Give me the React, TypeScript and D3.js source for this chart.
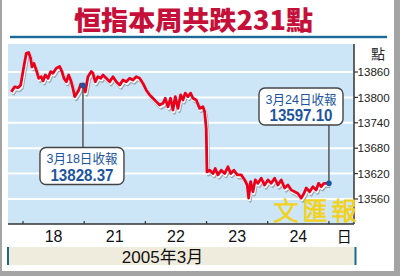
import React from "react";
import * as d3 from "d3";

const title = "恒指本周共跌231點";
const dayLabels = ["18", "21", "22", "23", "24"];
const dayBoundaries = [0, 1, 2, 3, 4, 5];
const yTicks = [13560, 13620, 13680, 13740, 13800, 13860];
const monthLabel = "2005年3月";
const unitLabel = "點";
const dayUnit = "日";
const watermark = ["文", "匯", "報"];

// time in trading-day units (0 = start of 18th, 5 = close of 24th)
const times = [
  -0.191, -0.136, -0.082, -0.038, 0, 0.054, 0.093, 0.126, 0.147, 0.18, 0.217, 0.257, 0.299, 0.327,
  0.364, 0.408, 0.453, 0.49, 0.544, 0.6, 0.637, 0.67, 0.708, 0.747, 0.789, 0.817, 0.845, 0.871,
  0.91, 0.943, 0.98, 1.018, 1.062, 1.116, 1.144, 1.181, 1.225, 1.27, 1.307, 1.361, 1.417, 1.471,
  1.525, 1.58, 1.634, 1.688, 1.744, 1.797, 1.851, 1.907, 1.961, 2.015, 2.07, 2.124, 2.178, 2.234,
  2.288, 2.325, 2.369, 2.413, 2.451, 2.489, 2.533, 2.577, 2.614, 2.652, 2.696, 2.74, 2.778, 2.832,
  2.887, 2.941, 2.969, 2.995, 3.007, 3.051, 3.105, 3.142, 3.186, 3.24, 3.296, 3.35, 3.394, 3.448,
  3.502, 3.567, 3.623, 3.665, 3.688, 3.721, 3.758, 3.796, 3.84, 3.894, 3.949, 4.003, 4.057, 4.113,
  4.167, 4.221, 4.276, 4.33, 4.384, 4.44, 4.493, 4.547, 4.592, 4.629, 4.685, 4.739, 4.792, 4.832,
  4.874, 4.918, 5.0,
];
const values = [
  13813, 13825, 13823, 13829, 13861, 13904, 13906, 13892, 13872, 13880, 13865, 13845, 13849, 13839,
  13853, 13845, 13861, 13857, 13869, 13873, 13861, 13845, 13837, 13853, 13837, 13821, 13802, 13807,
  13817, 13831, 13828, 13813, 13849, 13861, 13857, 13837, 13849, 13845, 13853, 13845, 13837, 13849,
  13837, 13829, 13841, 13837, 13845, 13841, 13849, 13845, 13833, 13817, 13806, 13798, 13790, 13782,
  13786, 13798, 13778, 13798, 13770, 13802, 13774, 13806, 13794, 13810, 13802, 13810, 13798, 13794,
  13774, 13778, 13766, 13727, 13624, 13628, 13620, 13632, 13617, 13628, 13620, 13636, 13620, 13628,
  13617, 13617, 13605, 13593, 13562, 13601, 13577, 13605, 13597, 13609, 13593, 13605, 13597, 13609,
  13593, 13605, 13586, 13593, 13581, 13577, 13573, 13562, 13573, 13586, 13577, 13589, 13581, 13597,
  13589, 13597, 13597,
];

const noteLabels = ["3月18日收報", "3月24日收報"];
const noteValues = [13828.37, 13597.1];
const noteTimes = [0.98, 5.0];

export default function App() {
  const W = 400, H = 276;
  const plotL = 8, plotR = 354, plotT = 44, plotB = 224;
  const x = d3.scaleLinear().domain([-0.245, 5.41]).range([plotL, plotR]);
  const y = d3.scaleLinear().domain([13560, 13860]).range([199, 72]);
  const pts = times.map((t, i) => [t, values[i]] as [number, number]);
  const line = d3.line<[number, number]>().x((d) => x(d[0])).y((d) => y(d[1]));
  const path = line(pts) || "";
  const latin = "'Liberation Sans', Arial, 'Noto Sans CJK TC', sans-serif";
  const cjk = "'Noto Sans CJK TC', 'Noto Sans CJK SC', sans-serif";
  const blue = "#1d55a0";

  const boxW = 84, boxH = 37;
  const boxes = [
    { cx: x(noteTimes[0]) - 1, top: 147.5 },
    { cx: 301, top: 88 },
  ];

  return (
    <svg width={W} height={H} style={{ position: "absolute", left: 0, top: 0, display: "block" }}>
      <rect x={0} y={0} width={W} height={H} fill="#ffffff" />
      {/* frame */}
      <rect x={0} y={0} width={2} height={H} fill="#a4a4a4" />
      <rect x={394} y={0} width={6} height={H} fill="#a4a4a4" />
      <rect x={0} y={271} width={W} height={5} fill="#a4a4a4" />

      {/* title */}
      <text x={193.5} y={30} textAnchor="middle" fontFamily={cjk} fontWeight={900} fontSize={26}
        fill="#c5103a" textLength={239} lengthAdjust="spacingAndGlyphs">{title}</text>
      <rect x={10} y={35.8} width={377} height={2.4} fill="#1b6a96" />

      {/* plot background */}
      <rect x={plotL} y={plotT} width={plotR - plotL} height={plotB - plotT} fill="#cce6f8" />
      {yTicks.map((v) => (
        <line key={v} x1={plotL} x2={plotR} y1={y(v)} y2={y(v)} stroke="#ffffff" strokeWidth={2} />
      ))}

      {/* line with shadow */}
      <path d={path} fill="none" stroke="#9ea9b3" strokeWidth={3.2} strokeLinejoin="round"
        transform="translate(1.5,3)" />
      <path d={path} fill="none" stroke="#ffffff" strokeWidth={3.2} strokeLinejoin="round"
        transform="translate(0.7,1.6)" />
      <path d={path} fill="none" stroke="#e8001c" strokeWidth={2.8} strokeLinejoin="round" />

      {/* axes */}
      <line x1={plotR} x2={plotR} y1={plotT} y2={plotB} stroke="#333" strokeWidth={1.5} />
      <line x1={plotL} x2={plotR} y1={plotB} y2={plotB} stroke="#333" strokeWidth={1.5} />
      {dayBoundaries.map((d) => (
        <line key={d} x1={x(d)} x2={x(d)} y1={plotB - 3} y2={plotB} stroke="#333" strokeWidth={1.2} />
      ))}
      {yTicks.map((v) => (
        <g key={v}>
          <line x1={plotR} x2={plotR + 4} y1={y(v)} y2={y(v)} stroke="#333" strokeWidth={1.2} />
          <text x={357.5} y={y(v) + 4.2} fontFamily={latin} fontSize={11.6} fill="#222">{v}</text>
        </g>
      ))}
      <text x={378} y={59} textAnchor="middle" fontFamily={cjk} fontSize={14} fill="#222">{unitLabel}</text>
      {dayLabels.map((l, i) => (
        <text key={l} x={x(i + 0.5)} y={242} textAnchor="middle" fontFamily={latin} fontSize={16} fill="#111">{l}</text>
      ))}
      <text x={x(5.25)} y={242} textAnchor="middle" fontFamily={cjk} fontSize={15} fill="#111">{dayUnit}</text>

      {/* month band */}
      <rect x={8} y={247} width={348} height={18} fill="#f0ecdd" />
      <rect x={7} y={247} width={2} height={18} fill="#1a6a8c" />
      <rect x={354.5} y={247} width={2} height={18} fill="#1a6a8c" />
      <text x={162.5} y={263} textAnchor="middle" fontFamily={latin} fontSize={17} fill="#111">{monthLabel}</text>

      {/* connectors */}
      <line x1={x(noteTimes[0])} x2={x(noteTimes[0])} y1={y(noteValues[0])} y2={boxes[0].top}
        stroke="#555" strokeWidth={1.5} />
      <line x1={x(noteTimes[1])} x2={x(noteTimes[1])} y1={boxes[1].top + boxH} y2={y(noteValues[1])}
        stroke="#555" strokeWidth={1.5} />

      {/* watermark */}
      {watermark.map((c, i) => (
        <text key={c} x={286 + i * 29} y={219.5} textAnchor="middle" fontFamily={cjk} fontWeight={300}
          fontSize={25} fill="none" stroke="#f2d21e" strokeWidth={1.2}>{c}</text>
      ))}

      {noteValues.map((v, i) => (
        <circle key={i} cx={x(noteTimes[i])} cy={y(v)} r={2.8} fill={blue} />
      ))}

      {boxes.map((b, i) => (
        <g key={i}>
          <rect x={b.cx - boxW / 2} y={b.top} width={boxW} height={boxH} rx={6} fill="#ffffff"
            stroke="#444" strokeWidth={1.4} />
          <text x={b.cx} y={b.top + 15.5} textAnchor="middle" fontFamily={latin} fontSize={13}
            fill={blue} textLength={71} lengthAdjust="spacingAndGlyphs">{noteLabels[i]}</text>
          <text x={b.cx} y={b.top + 33} textAnchor="middle" fontFamily={latin} fontWeight="bold"
            fontSize={17} fill={blue} textLength={63} lengthAdjust="spacingAndGlyphs">
            {noteValues[i].toFixed(2)}
          </text>
        </g>
      ))}
    </svg>
  );
}
